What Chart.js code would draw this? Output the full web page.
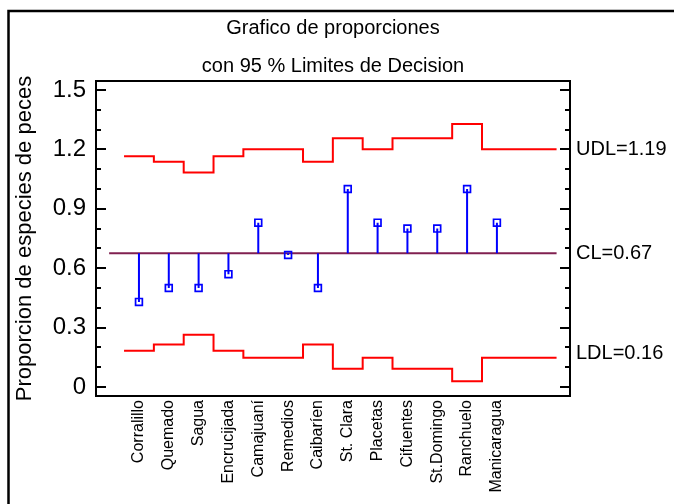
<!DOCTYPE html>
<html>
<head>
<meta charset="utf-8">
<script src="https://cdn.jsdelivr.net/npm/chart.js@4.4.1/dist/chart.umd.min.js"></script>
<style>
  body { margin: 0; background: #fff; }
</style>
</head>
<body>
<canvas id="propChart" width="674" height="504"></canvas>
<script>
// datos
var categories = ['Corralillo', 'Quemado', 'Sagua', 'Encrucijada', 'Camajuaní', 'Remedios',
  'Caibaríen', 'St. Clara', 'Placetas', 'Cifuentes', 'St.Domingo', 'Ranchuelo', 'Manicaragua'];
var proporcion = [0.43, 0.5, 0.5, 0.57, 0.83, 0.667, 0.5, 1.0, 0.83, 0.8, 0.8, 1.0, 0.83];
var udl = [1.165, 1.137, 1.083, 1.165, 1.201, 1.201, 1.137, 1.256, 1.201, 1.256, 1.256, 1.328, 1.201];
var ldl = [0.183, 0.215, 0.264, 0.183, 0.148, 0.148, 0.215, 0.093, 0.148, 0.093, 0.093, 0.030, 0.148];
var centerLine = 0.676;
var clStart = -1, xEnd = 14;

var yTickValues = [0, 0.3, 0.6, 0.9, 1.2, 1.5];
var yTickLabels = ['0', '0.3', '0.6', '0.9', '1.2', '1.5'];
var yMinorTicks = [0, 0.1, 0.2, 0.3, 0.4, 0.5, 0.6, 0.7, 0.8, 0.9, 1.0, 1.1, 1.2, 1.3, 1.4, 1.5];
var limitValues = [1.2, 0.676, 0.168];
var limitLabels = ['UDL=1.19', 'CL=0.67', 'LDL=0.16'];
var titleLines = ['Grafico de proporciones', 'con 95 % Limites de Decision'];

var FONT = '"Liberation Sans", Arial, sans-serif';

function stepPoints(arr) {
  var pts = arr.map(function(v, i) { return {x: i - 0.5, y: v}; });
  pts.push({x: xEnd, y: arr[arr.length - 1]});
  return pts;
}

var stems = [];
proporcion.forEach(function(p, i) {
  stems.push({x: i, y: centerLine}, {x: i, y: p}, {x: i, y: null});
});

var markers = proporcion.map(function(p, i) { return {x: i, y: p}; });

var framePlugin = {
  id: 'frame',
  beforeDraw: function(chart) {
    var ctx = chart.ctx;
    ctx.save();
    ctx.fillStyle = '#fff';
    ctx.fillRect(0, 0, chart.width, chart.height);
    ctx.restore();
  },
  afterDraw: function(chart) {
    var ctx = chart.ctx, a = chart.chartArea, y = chart.scales.y;
    ctx.save();
    ctx.strokeStyle = '#000';
    // marco exterior
    ctx.lineWidth = 2.5;
    ctx.beginPath();
    ctx.moveTo(8.5, chart.height + 5);
    ctx.lineTo(8.5, 11);
    ctx.lineTo(chart.width + 5, 11);
    ctx.stroke();
    // marco del grafico
    ctx.lineWidth = 2;
    ctx.strokeRect(a.left, a.top, a.right - a.left, a.bottom - a.top);
    // marcas hacia dentro
    ctx.beginPath();
    yMinorTicks.forEach(function(v, i) {
      var py = Math.round(y.getPixelForValue(v));
      var len = (i % 3 === 0) ? 10 : 5;
      ctx.moveTo(a.left, py);
      ctx.lineTo(a.left + len, py);
      ctx.moveTo(a.right, py);
      ctx.lineTo(a.right - len, py);
    });
    ctx.stroke();
    // titulos
    ctx.fillStyle = '#000';
    ctx.font = '20px ' + FONT;
    ctx.textAlign = 'center';
    ctx.textBaseline = 'middle';
    var cx = (a.left + a.right) / 2;
    ctx.fillText(titleLines[0], cx, 28);
    ctx.fillText(titleLines[1], cx, 66);
    ctx.restore();
  }
};

var ctx = document.getElementById('propChart');
var myChart = new Chart(ctx, {
  type: 'line',
  data: {
    datasets: [
      {
        label: 'Proporcion',
        data: markers,
        showLine: false,
        pointStyle: 'rect',
        pointRadius: 4.8,
        pointBorderWidth: 1.7,
        pointBackgroundColor: 'rgba(0,0,0,0)',
        pointBorderColor: '#0000ff'
      },
      {
        label: 'UDL',
        data: stepPoints(udl),
        stepped: 'before',
        borderColor: '#ff0000',
        borderWidth: 2,
        pointRadius: 0,
        fill: false
      },
      {
        label: 'LDL',
        data: stepPoints(ldl),
        stepped: 'before',
        borderColor: '#ff0000',
        borderWidth: 2,
        pointRadius: 0,
        fill: false
      },
      {
        label: 'stems',
        data: stems,
        spanGaps: false,
        borderColor: '#0000ff',
        borderWidth: 2,
        pointRadius: 0,
        fill: false
      },
      {
        label: 'CL',
        data: [{x: clStart, y: centerLine}, {x: xEnd, y: centerLine}],
        borderColor: '#802050',
        borderWidth: 2,
        pointRadius: 0,
        fill: false
      }
    ]
  },
  options: {
    responsive: false,
    animation: false,
    events: [],
    layout: { padding: { top: 81, left: 0, right: 0, bottom: 0 } },
    plugins: {
      legend: { display: false },
      tooltip: { enabled: false }
    },
    scales: {
      x: {
        type: 'linear',
        min: -1.44,
        max: 14.45,
        grid: { display: false, drawTicks: false },
        border: { display: false },
        ticks: {
          autoSkip: false,
          minRotation: 90,
          maxRotation: 90,
          padding: 4,
          color: '#000',
          font: { family: FONT, size: 16 },
          callback: function(v) { return categories[v]; }
        },
        afterBuildTicks: function(s) {
          s.ticks = categories.map(function(c, i) { return {value: i}; });
        },
        afterFit: function(s) { s.height = 108; s.paddingLeft = 0; s.paddingRight = 0; }
      },
      y: {
        type: 'linear',
        position: 'left',
        min: -0.045,
        max: 1.545,
        grid: { display: false, drawTicks: false },
        border: { display: false },
        ticks: {
          padding: 10,
          color: '#000',
          font: { family: FONT, size: 24 },
          callback: function(v, i) { return yTickLabels[i]; }
        },
        afterBuildTicks: function(s) {
          s.ticks = yTickValues.map(function(v) { return {value: v}; });
        },
        title: {
          display: true,
          text: 'Proporcion de especies de peces',
          color: '#000',
          font: { family: FONT, size: 22 },
          padding: { top: 12, bottom: 0 }
        },
        afterFit: function(s) { s.width = 96; s.paddingTop = 0; s.paddingBottom = 0; }
      },
      y2: {
        type: 'linear',
        position: 'right',
        min: -0.045,
        max: 1.545,
        grid: { display: false, drawTicks: false },
        border: { display: false },
        ticks: {
          padding: 6,
          color: '#000',
          font: { family: FONT, size: 20 },
          callback: function(v, i) { return limitLabels[i]; }
        },
        afterBuildTicks: function(s) {
          s.ticks = limitValues.map(function(v) { return {value: v}; });
        },
        afterFit: function(s) { s.width = 104; s.paddingTop = 0; s.paddingBottom = 0; }
      }
    }
  },
  plugins: [framePlugin]
});
</script>
</body>
</html>
